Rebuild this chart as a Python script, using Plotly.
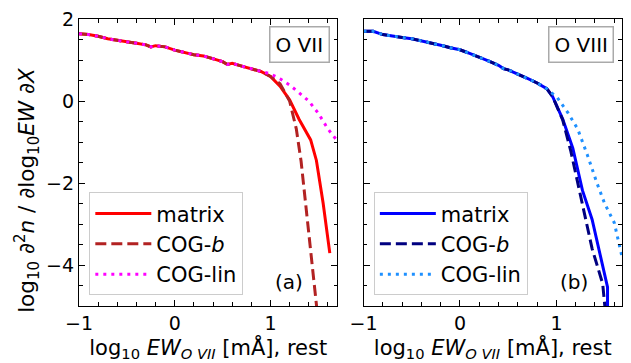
import plotly.graph_objects as go

# ---------- data: O VII (left panel) ----------
x7_common = [-1.0, -0.9, -0.8, -0.7, -0.6, -0.5, -0.4, -0.3, -0.25, -0.2, -0.1, 0.0, 0.1,
             0.2, 0.3, 0.4, 0.5, 0.55, 0.6, 0.7, 0.8, 0.9, 1.0]
y7_common = [1.64, 1.62, 1.58, 1.52, 1.48, 1.45, 1.41, 1.37, 1.32, 1.35, 1.32, 1.24, 1.18,
             1.13, 1.10, 1.03, 0.96, 0.89, 0.92, 0.85, 0.79, 0.72, 0.60]

x7_matrix = x7_common + [1.1, 1.2, 1.3, 1.42, 1.48, 1.55, 1.62]
y7_matrix = y7_common + [0.36, 0.03, -0.45, -0.95, -1.45, -2.49, -3.71]

x7_cogb = x7_common + [1.1, 1.2, 1.27, 1.32, 1.375, 1.43, 1.48, 1.50]
y7_cogb = y7_common + [0.42, 0.0, -0.68, -1.47, -2.65, -3.83, -5.0, -5.4]

x7_coglin = x7_common + [1.1, 1.2, 1.3, 1.4, 1.5, 1.6, 1.7]
y7_coglin = y7_common[:-1] + [0.66] + [0.54, 0.39, 0.20, 0.0, -0.30, -0.68, -0.98]

# ---------- data: O VIII (right panel) ----------
x8_common = [-1.0, -0.9, -0.8, -0.7, -0.6, -0.5, -0.4, -0.3, -0.2, -0.1, 0.0, 0.1, 0.2,
             0.3, 0.4, 0.45, 0.5, 0.6, 0.7, 0.8, 0.9]
y8_common = [1.70, 1.70, 1.62, 1.58, 1.55, 1.52, 1.47, 1.42, 1.36, 1.30, 1.25, 1.16, 1.07,
             0.97, 0.87, 0.79, 0.76, 0.66, 0.55, 0.44, 0.30]

x8_matrix = x8_common + [0.96, 1.065, 1.17, 1.27, 1.37, 1.48, 1.53, 1.53]
y8_matrix = y8_common + [0.11, -0.44, -1.15, -2.18, -2.89, -3.99, -4.54, -5.2]

x8_cogb = x8_common + [0.96, 1.065, 1.15, 1.27, 1.37, 1.48, 1.51]
y8_cogb = y8_common + [0.11, -0.46, -1.23, -2.49, -3.6, -4.46, -5.2]

x8_coglin = x8_common + [1.01, 1.12, 1.22, 1.32, 1.42, 1.50, 1.60, 1.68]
y8_coglin = y8_common + [0.08, -0.29, -0.68, -1.31, -2.0, -2.5, -2.97, -3.8]

y_tickvals = [-4, -2, 0, 2]
y_ticktext = ["−4", "−2", "0", "2"]
x_tickvals = [-1, 0, 1]
x_ticktext = ["−1", "0", "1"]

legend_names = ["matrix", "COG-<i>b</i>", "COG-lin"]
panel_labels = ["O VII", "O VIII"]
panel_tags = ["(a)", "(b)"]
ytitle = "log<sub>10</sub> ∂<sup>2</sup><i>n</i> / ∂log<sub>10</sub><i>EW</i> ∂<i>X</i>"
xtitle = "log<sub>10</sub> <i>EW</i><sub><i>O VII</i></sub> [mÅ], rest"

FONT = "DejaVu Sans"
fig = go.Figure()

def add_set(xs, ys, colors, xa, ya, legend):
    dashes = ["solid", "11px,5px", "3px,5px"]
    for (x, y), c, d, n in zip(zip(xs, ys), colors, dashes, legend_names):
        fig.add_trace(go.Scatter(x=x, y=y, mode="lines", name=n, xaxis=xa, yaxis=ya,
                                 legend=legend,
                                 line=dict(color=c, width=3, dash=d)))

add_set([x7_matrix, x7_cogb, x7_coglin], [y7_matrix, y7_cogb, y7_coglin],
        ["#ff0000", "#b22222", "#ff00ff"], "x", "y", "legend")
add_set([x8_matrix, x8_cogb, x8_coglin], [y8_matrix, y8_cogb, y8_coglin],
        ["#0000ff", "#000080", "#1e90ff"], "x2", "y2", "legend2")

axis_common = dict(showline=True, linecolor="black", linewidth=1.3, mirror="allticks",
                   ticks="inside", ticklen=6, tickwidth=1.2, tickcolor="black",
                   showgrid=False, zeroline=False, ticklabeloverflow="allow",
                   tickfont=dict(family=FONT, size=19, color="black"))
xminor = dict(ticks="inside", ticklen=3.5, dtick=0.2, tick0=-1, tickcolor="black", showgrid=False)
yminor = dict(ticks="inside", ticklen=3.5, dtick=0.5, tick0=0, tickcolor="black", showgrid=False)

legend_common = dict(xanchor="left", yanchor="bottom", xref="paper", yref="paper",
                     bgcolor="rgba(255,255,255,0.8)", bordercolor="#cccccc", borderwidth=1,
                     font=dict(size=21), tracegroupgap=0, itemwidth=56)

fig.update_layout(
    width=631, height=363,
    margin=dict(l=79, r=8, t=10, b=57),
    plot_bgcolor="white", paper_bgcolor="white",
    font=dict(family=FONT, size=19, color="black"),
    xaxis=dict(domain=[0, 0.476], range=[-1.0, 1.7], tickvals=x_tickvals, ticktext=x_ticktext,
               minor=xminor,
               title=dict(text=xtitle, font=dict(size=21), standoff=4), **axis_common),
    yaxis=dict(range=[-5.0, 2.0], tickvals=y_tickvals, ticktext=y_ticktext, minor=yminor,
               **axis_common),
    xaxis2=dict(domain=[0.524, 1], range=[-1.0, 1.68], tickvals=x_tickvals, ticktext=x_ticktext,
                minor=xminor,
                title=dict(text=xtitle, font=dict(size=21), standoff=4), **axis_common),
    yaxis2=dict(anchor="x2", range=[-5.0, 2.0], tickvals=y_tickvals, showticklabels=False,
                minor=yminor, **axis_common),
    legend=dict(x=0.019, y=0.037, **legend_common),
    legend2=dict(x=0.543, y=0.037, **legend_common),
)

# y-axis title (placed as rotated text, matching the reference's vertical offset)
fig.add_annotation(text=ytitle, xref="paper", yref="paper", x=-0.0956, y=0.405,
                   xanchor="center", yanchor="middle", textangle=-90, showarrow=False,
                   font=dict(size=21.5))

for xr, yr, lab, tag in [("x", "y", panel_labels[0], panel_tags[0]),
                         ("x2", "y2", panel_labels[1], panel_tags[1])]:
    fig.add_annotation(text=lab, xref=f"{xr} domain", yref=f"{yr} domain", x=0.97, y=0.975,
                       xanchor="right", yanchor="top", showarrow=False,
                       font=dict(size=20), bordercolor="#aaaaaa", borderwidth=1.5,
                       borderpad=5, bgcolor="white")
    fig.add_annotation(text=tag, xref=f"{xr} domain", yref=f"{yr} domain", x=0.876, y=0.035,
                       xanchor="right", yanchor="bottom", showarrow=False,
                       font=dict(size=20))

fig.write_html("out.html", config={"displayModeBar": False},
               post_script="document.body.style.margin='0';document.body.style.overflow='hidden';")
